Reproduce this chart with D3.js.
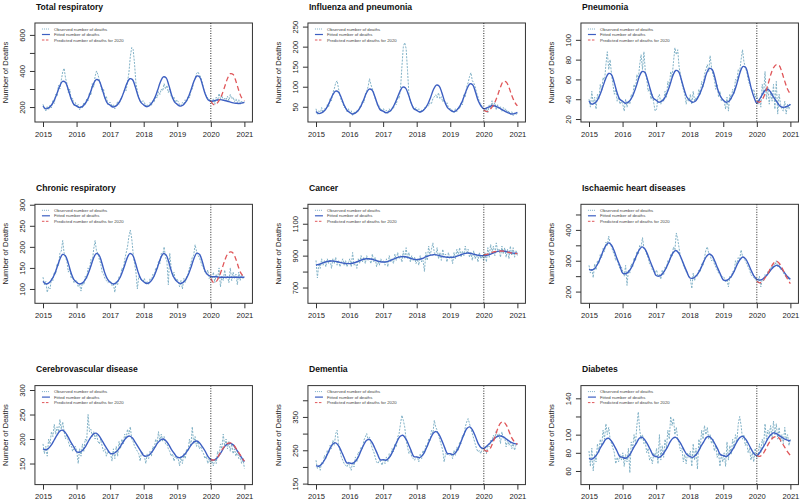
<!DOCTYPE html>
<html><head><meta charset="utf-8">
<script src="https://cdn.jsdelivr.net/npm/d3@7"></script>
<style>body{margin:0;background:#fff}svg{display:block}text{font-family:"Liberation Sans",Arial,sans-serif}</style>
</head><body><svg id="c" width="800" height="503"></svg>
<script>
const titles = ["Total respiratory","Influenza and pneumonia","Pneumonia","Chronic respiratory","Cancer","Ischaemic heart diseases","Cerebrovascular disease","Dementia","Diabetes"];
const xTicks = [2015,2016,2017,2018,2019,2020,2021];
const legendLabels = ["Observed number of deaths","Fitted number of deaths","Predicted number of deaths for 2020"];
const yDomains = [[117,666],[12,259],[17,117],[66,301],[601,1222],[162,483],[107,309],[147,444],[45,154]];
const yTicks = [[200,300,400,500,600],[50,100,150,200,250],[20,40,60,80,100],[100,150,200,250,300],[700,800,900,1000,1100,1200],[200,250,300,350,400,450],[150,200,250,300],[150,200,250,300,350,400],[60,80,100,120,140]];
const yLabels = [[200,400,600],[50,100,150,200,250],[20,40,60,80,100],[100,150,200,250,300],[700,900,1100],[200,300,400],[150,200,250,300],[150,250,350],[60,80,100,140]];

// Total respiratory
const obsTotal = [215,190,178,205,185,210,195,235,220,270,260,320,300,350,395,415,360,330,280,300,240,250,205,225,
200,215,185,205,195,225,210,245,235,280,265,330,310,370,400,380,350,320,285,300,245,260,215,225,
225,200,215,190,210,230,215,240,255,275,300,290,340,390,480,530,520,440,330,290,250,240,225,235,
225,205,215,200,225,210,235,230,260,250,285,270,300,290,330,300,320,280,300,260,245,255,225,240,
230,215,205,225,215,240,230,260,250,290,300,340,360,385,395,380,365,340,300,280,260,250,245,235,
225,245,215,255,235,275,245,265,235,250,240,260,235,270,245,255,230,245,225,240,215,235,220,230];
const fitTotal = [205,190,195,210,237,275,317,342,337,299,249,215,
206,197,202,218,244,284,327,352,347,308,257,222,
210,200,205,221,248,288,331,357,352,312,261,226,
212,202,207,224,252,294,340,367,362,320,266,229,
215,205,210,227,256,299,344,372,367,324,272,240,
232,234,238,241,240,236,232,227,223,221,220,222,226];
const predTotal = [232,214,218,238,270,315,360,385,380,342,292,252,235];

// Influenza and pneumonia
const obsFlu = [45,30,40,32,48,35,45,42,55,50,70,65,85,95,110,115,95,80,65,60,48,50,38,45,
35,40,28,38,32,42,38,50,48,65,60,80,90,100,120,105,95,85,70,62,50,52,40,45,
45,35,42,33,45,38,48,45,60,55,75,70,95,150,200,210,195,140,80,65,55,50,42,48,
40,45,35,42,40,48,45,55,52,60,58,70,75,80,72,85,70,75,62,68,55,60,48,45,
45,40,35,45,38,50,45,60,55,80,75,100,110,125,135,115,110,100,85,75,62,58,50,45,
40,45,35,55,45,65,50,60,42,55,45,50,38,48,42,45,35,40,30,38,28,35,30,35];
const fitFlu = [38,33,35,40,50,64,80,89,87,73,55,42,
36,32,34,40,51,67,84,94,92,76,56,42,
39,35,37,43,55,71,88,99,97,81,60,45,
41,37,39,46,57,74,93,104,102,85,63,48,
42,38,40,47,59,77,95,107,105,87,65,52,
45,47,50,53,52,49,45,41,37,34,32,33,36];
const predFlu = [42,38,42,50,62,80,100,113,112,98,78,62,52];

// Pneumonia
const obsPneu = [40,32,48,35,42,30,45,40,55,48,62,58,75,88,70,80,65,55,45,50,38,42,35,38,
35,28,40,32,38,35,45,42,55,50,65,60,75,85,70,88,68,60,48,52,40,45,36,28,
30,42,45,35,40,38,48,42,58,52,68,62,78,92,85,90,72,65,55,50,45,35,42,38,
45,35,48,38,42,40,50,45,58,52,65,70,75,68,84,72,65,60,50,55,42,48,38,40,
38,30,42,28,45,40,50,45,60,58,70,68,80,90,78,72,68,60,55,52,48,50,42,45,
35,40,32,55,45,68,40,52,35,48,38,55,30,58,25,45,35,30,28,38,25,35,30,36];
const fitPneu = [38,35,36,39,45,53,61,66,65,57,47,40,
38,36,37,40,46,54,63,68,67,59,49,41,
39,37,38,41,47,55,64,69,68,60,50,42,
39,37,38,42,48,56,66,71,70,62,50,43,
39,37,38,42,48,57,67,73,72,63,51,42,
36,40,45,49,50,47,42,38,34,32,32,33,35];
const predPneu = [38,37,40,46,55,65,72,75,74,67,58,50,45];

// Chronic respiratory
const obsChronic = [128,110,118,92,105,100,125,120,140,135,160,155,185,190,215,185,175,165,140,150,125,130,115,120,
120,105,110,95,115,110,130,125,150,145,170,165,195,215,190,185,170,160,140,135,125,120,115,118,
118,108,112,92,118,110,130,128,150,145,170,185,200,225,240,220,185,160,140,100,130,125,120,118,
125,112,118,110,125,120,135,130,150,148,165,160,185,180,200,175,165,110,185,150,130,140,120,125,
118,105,120,100,125,115,130,135,150,160,175,180,205,190,180,175,165,155,150,140,135,145,125,130,
120,140,115,135,125,150,105,130,120,145,125,130,115,150,120,140,125,135,110,140,120,135,125,130];
const fitChronic = [118,112,114,121,133,151,170,182,179,162,139,123,
116,112,114,121,134,152,172,184,181,163,140,124,
116,112,114,121,134,152,172,184,181,163,140,124,
117,113,115,122,135,153,172,184,181,163,140,125,
117,113,115,122,135,153,173,185,182,164,142,133,
130,129,129,128,128,128,128,128,128,128,128,128,128];
const predChronic = [125,115,118,130,148,168,183,188,185,170,150,135,128];

// Cancer
const obsCancer = [870,760,850,820,880,840,870,830,880,850,875,820,880,850,890,840,870,830,860,880,840,870,830,860,
880,830,920,840,860,820,880,850,900,860,890,850,900,870,880,850,910,860,890,830,870,840,880,860,
870,840,880,830,900,860,880,850,910,870,920,880,900,860,930,880,950,880,920,860,900,870,890,850,
880,840,900,860,870,800,920,870,960,900,940,980,920,900,950,880,920,870,940,890,910,860,920,880,
900,850,920,880,940,900,950,890,930,900,960,910,940,890,920,870,930,880,910,860,920,880,900,870,
920,860,950,890,970,920,960,900,980,930,940,890,960,910,950,890,940,880,960,900,950,890,930,900];
const fitCancer = [840,845,852,858,863,866,866,864,860,856,852,850,
850,852,857,864,871,877,880,880,877,872,866,862,
860,861,866,873,880,887,892,895,893,888,882,877,
875,877,882,890,897,903,906,905,901,896,892,890,
889,890,894,900,907,913,916,915,911,906,902,900,
900,902,907,914,921,927,930,929,926,921,917,915,915];
const predCancer = [905,908,913,920,925,928,929,928,925,920,916,914,913];

// Ischaemic heart diseases
const obsIschaemic = [285,260,275,245,290,270,300,290,320,310,340,330,360,350,380,355,345,330,320,300,305,285,275,280,
265,250,285,220,270,260,290,280,310,300,330,320,350,345,375,340,335,320,310,290,285,270,265,260,
270,250,255,240,270,255,280,275,300,295,320,315,345,335,390,370,340,310,300,285,275,265,255,250,
240,210,260,235,255,250,270,265,290,285,310,335,345,325,320,300,305,290,280,270,260,255,245,250,
245,230,240,215,250,245,265,260,300,290,310,305,335,315,310,300,290,280,270,255,250,245,240,235,
230,250,215,240,235,255,250,265,260,280,275,290,285,300,280,290,270,275,260,255,245,250,240,235];
const fitIschaemic = [272,270,275,288,307,330,349,358,351,332,307,285,
260,258,263,275,295,317,336,345,338,319,295,273,
252,250,255,267,285,306,325,333,326,308,285,264,
245,243,248,259,276,297,314,322,316,298,276,256,
238,236,241,251,268,288,304,312,306,289,268,250,
240,237,240,248,258,270,280,285,282,272,260,248,240];
const predIschaemic = [234,228,233,245,260,278,292,298,292,277,258,240,226];

// Cerebrovascular disease
const obsCerebro = [190,170,185,165,200,190,215,205,230,210,225,215,240,220,235,215,200,210,195,185,190,175,180,185,
175,150,180,165,190,175,200,195,250,215,220,205,215,200,210,195,190,200,185,175,180,165,175,170,
170,155,180,160,185,165,195,180,200,190,210,200,220,210,225,200,195,185,180,175,170,155,175,170,
165,150,170,160,175,165,185,180,200,190,215,195,210,195,205,190,190,180,175,165,170,155,165,160,
160,145,165,150,170,160,180,175,200,185,225,190,205,185,195,180,185,175,170,160,165,150,160,150,
155,145,160,150,175,165,190,180,210,185,200,180,195,175,190,170,180,165,175,160,165,150,160,140];
const fitCerebro = [180,178,181,188,198,208,216,218,213,204,193,184,
174,173,176,183,193,203,210,212,207,198,188,179,
171,170,173,179,188,197,204,206,202,193,184,175,
166,165,168,174,183,192,198,200,196,188,178,170,
163,162,165,171,179,188,194,196,192,184,175,164,
158,157,160,167,176,185,190,191,188,180,171,162,154];
const predCerebro = [158,157,160,168,178,186,191,192,189,181,172,163,155];

// Dementia
const obsDementia = [220,195,205,190,215,210,235,225,250,240,265,255,280,265,300,310,270,250,230,220,210,205,200,215,
200,190,215,200,230,215,245,240,260,255,280,290,300,280,290,270,255,245,230,215,210,220,215,205,
225,210,230,215,240,230,255,245,270,260,290,300,330,355,340,320,280,260,240,250,230,225,220,230,
230,215,240,225,250,240,265,260,285,280,310,300,340,320,310,295,280,265,250,215,240,235,240,235,
240,225,250,235,260,250,275,270,295,290,320,335,345,330,315,300,285,270,255,245,250,240,255,250,
255,240,265,260,280,275,295,285,310,290,300,270,305,285,290,260,280,265,275,255,270,250,265,270];
const fitDementia = [204,202,208,220,237,255,269,272,264,248,229,212,
212,210,216,228,247,265,279,283,274,257,238,221,
222,220,226,239,258,277,291,295,286,269,249,231,
230,228,234,248,267,287,302,306,297,279,258,240,
240,237,244,258,279,300,316,320,310,291,270,258,
256,262,270,279,287,292,293,290,284,278,273,270,268];
const predDementia = [252,247,252,268,290,315,332,335,326,307,287,275,268];

// Diabetes
const obsDiabetes = [82,65,85,60,78,70,90,80,95,88,105,95,112,100,108,95,90,85,80,68,75,70,78,72,
80,65,78,70,85,58,92,85,100,90,110,125,105,95,100,90,92,80,85,72,75,68,80,75,
85,68,100,72,88,75,95,85,105,95,120,110,118,100,108,95,90,82,85,70,78,68,80,75,
82,65,90,72,85,62,95,85,105,95,110,100,108,95,100,90,95,82,88,75,80,65,78,70,
80,65,92,72,88,78,95,85,100,92,112,120,110,95,100,88,92,80,85,72,80,70,85,75,
75,90,80,95,88,112,95,105,100,110,95,115,100,112,95,108,92,100,90,108,95,100,88,95];
const fitDiabetes = [74,73,75,79,85,90,95,96,93,88,82,76,
75,74,76,80,86,91,96,97,94,89,83,77,
76,75,77,81,86,92,96,97,94,89,83,78,
76,75,77,81,87,92,97,98,95,90,84,78,
77,76,78,82,87,93,97,98,95,90,84,79,
77,80,85,90,96,100,102,101,99,97,95,94,93];
const predDiabetes = [77,76,78,83,89,94,97,98,96,91,86,81,77];

const observed = [obsTotal,obsFlu,obsPneu,obsChronic,obsCancer,obsIschaemic,obsCerebro,obsDementia,obsDiabetes];
const fitted = [fitTotal,fitFlu,fitPneu,fitChronic,fitCancer,fitIschaemic,fitCerebro,fitDementia,fitDiabetes];
const predicted = [predTotal,predFlu,predPneu,predChronic,predCancer,predIschaemic,predCerebro,predDementia,predDiabetes];

const colObs = "#80b1c6", colFit = "#3d5fc2", colPred = "#e0575a", colAxis = "#333";
const svg = d3.select("#c");
const colX = [43, 316, 589];
const rowTop = [23, 204.3, 385.6];
const boxW = 217.5, boxH = 99, pad = 0.24;

titles.forEach((title, i) => {
  const col = i % 3, row = Math.floor(i / 3);
  const left = colX[col] - pad * boxW / (6 + 2 * pad);
  const top = rowTop[row];
  const x = d3.scaleLinear().domain([2015 - pad, 2021 + pad]).range([left, left + boxW]);
  const y = d3.scaleLinear().domain(yDomains[i]).range([top + boxH, top]);
  const g = svg.append("g");

  const clipId = "clip" + i;
  g.append("clipPath").attr("id", clipId).append("rect")
    .attr("x", left).attr("y", top).attr("width", boxW).attr("height", boxH);
  const plot = g.append("g").attr("clip-path", `url(#${clipId})`);

  const obs = observed[i];
  const obsPts = obs.map((v, k) => [2015 + k * 6 / (obs.length - 1), v]);
  const fitPts = fitted[i].map((v, k) => [2015 + k / 12, v]);
  const predPts = predicted[i].map((v, k) => [2020 + k / 12, v]);

  const lineL = d3.line().x(d => x(d[0])).y(d => y(d[1]));
  const lineS = d3.line().x(d => x(d[0])).y(d => y(d[1])).curve(d3.curveCatmullRom);

  plot.append("path").attr("d", lineL(obsPts)).attr("fill", "none")
    .attr("stroke", colObs).attr("stroke-width", 1).attr("stroke-dasharray", "2,1.3");
  plot.append("path").attr("d", lineS(fitPts)).attr("fill", "none")
    .attr("stroke", colFit).attr("stroke-width", 1.4);
  plot.append("path").attr("d", lineS(predPts)).attr("fill", "none")
    .attr("stroke", colPred).attr("stroke-width", 1.3).attr("stroke-dasharray", "5,3");

  g.append("line").attr("x1", x(2020)).attr("x2", x(2020)).attr("y1", top).attr("y2", top + boxH)
    .attr("stroke", "#222").attr("stroke-width", 1).attr("stroke-dasharray", "1,1.5");

  g.append("rect").attr("x", left).attr("y", top).attr("width", boxW).attr("height", boxH)
    .attr("fill", "none").attr("stroke", colAxis).attr("stroke-width", 1);

  // x axis
  const xa = g.append("g").attr("transform", `translate(0,${top + boxH})`)
    .call(d3.axisBottom(x).tickValues(xTicks).tickFormat(d3.format("d")).tickSize(5).tickSizeOuter(0));
  xa.select(".domain").remove();
  xa.selectAll("line").attr("stroke", colAxis);
  xa.selectAll("text").attr("font-size", 7.6).attr("fill", "#222").attr("y", 9.5).attr("dy", "0.71em")
    .style("font-family", "'Liberation Sans', Arial, sans-serif");

  // y axis
  const labs = yLabels[i];
  const ya = g.append("g").attr("transform", `translate(${left},0)`)
    .call(d3.axisLeft(y).tickValues(yTicks[i]).tickFormat(d => labs.includes(d) ? d : "").tickSize(5).tickSizeOuter(0));
  ya.select(".domain").remove();
  ya.selectAll("line").attr("stroke", colAxis);
  ya.selectAll("text").attr("x", null).attr("dy", "0.35em").attr("font-size", 7.6).attr("fill", "#222")
    .attr("text-anchor", "middle").attr("transform", "translate(-13,0) rotate(-90)")
    .style("font-family", "'Liberation Sans', Arial, sans-serif");

  // y title
  g.append("text").attr("transform", `translate(${left - 30},${top + boxH / 2}) rotate(-90)`)
    .attr("text-anchor", "middle").attr("dy", "0.35em").attr("font-size", 7.6).attr("fill", "#222")
    .text("Number of Deaths");

  // title
  g.append("text").attr("x", left + 1).attr("y", top - 13.5).attr("font-size", 8.6)
    .attr("font-weight", "bold").attr("fill", "#111").text(title);

  // legend
  const styles = [[colObs, "1,1", 1], [colFit, null, 1.2], [colPred, "2.5,1.5", 1]];
  legendLabels.forEach((lab, k) => {
    const ly = top + 6 + k * 5.5;
    g.append("line").attr("x1", left + 7).attr("x2", left + 15).attr("y1", ly).attr("y2", ly)
      .attr("stroke", styles[k][0]).attr("stroke-width", styles[k][2])
      .attr("stroke-dasharray", styles[k][1]);
    g.append("text").attr("x", left + 19).attr("y", ly).attr("dy", "0.35em")
      .attr("font-size", 4.3).attr("fill", "#444").text(lab);
  });
});
</script>
</body></html>
